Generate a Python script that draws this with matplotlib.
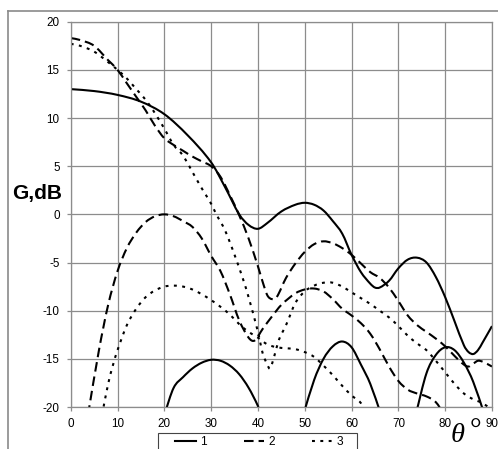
import matplotlib
matplotlib.use("Agg")
import matplotlib.pyplot as plt
from matplotlib.lines import Line2D
from matplotlib.path import Path
from matplotlib.patches import PathPatch, Rectangle

# ---- data: gain G (dB) versus angle theta (deg) ----
# curve 1 (solid): main pattern and three lower lobes
theta1 = [0, 5, 10, 15, 20, 25, 30, 33, 36, 38, 40, 42, 45, 48, 50, 52, 54, 56, 58,
          60, 62, 64, 65, 66, 68, 70, 72, 74, 76, 78, 80, 82, 84, 85, 86, 87, 88, 90]
g1 = [13.0, 12.8, 12.4, 11.7, 10.4, 8.2, 5.4, 2.8, 0.0, -1.1, -1.5, -0.9, 0.3, 1.0, 1.2,
      1.0, 0.4, -0.7, -2.0, -4.2, -6.0, -7.2, -7.6, -7.6, -6.9, -5.6, -4.7, -4.5, -5.0,
      -6.5, -8.6, -11.1, -13.6, -14.3, -14.5, -14.1, -13.3, -11.6]
theta1a = [20.0, 22, 24, 26, 28, 30, 32, 34, 36, 38, 40, 40.6]
g1a = [-20.8, -18.0, -16.9, -16.0, -15.4, -15.1, -15.2, -15.7, -16.6, -18.0, -19.9, -20.8]
theta1b = [49.7, 52, 54, 56, 58, 60, 62, 64, 66.3]
g1b = [-20.8, -17.2, -15.0, -13.7, -13.2, -13.8, -15.6, -17.6, -20.8]
theta1c = [73.7, 76, 78, 80, 82, 84, 86, 88.4]
g1c = [-20.8, -16.5, -14.6, -13.8, -14.1, -15.4, -17.4, -20.8]

# curve 2 (dashed): main pattern and lower lobe
theta2 = [0, 2, 5, 8, 10, 12, 14, 16, 18, 20, 22, 24, 26, 28, 30, 32, 34, 36, 38, 40,
          41, 42, 43, 44, 46, 48, 50, 52, 54, 56, 58, 60, 62, 64, 66, 68, 70, 72, 74,
          76, 78, 80, 82, 84, 85, 86, 87, 88, 90]
g2 = [18.3, 18.1, 17.5, 16.0, 15.0, 13.6, 12.2, 10.8, 9.2, 7.9, 7.2, 6.6, 6.0, 5.5, 5.0,
      3.9, 2.0, -0.1, -2.5, -5.4, -7.0, -8.4, -8.8, -8.6, -6.6, -5.1, -3.9, -3.1, -2.8,
      -3.0, -3.5, -4.2, -5.1, -6.0, -6.6, -7.6, -9.0, -10.5, -11.5, -12.2, -12.9, -13.7,
      -14.7, -15.6, -15.8, -15.5, -15.2, -15.3, -15.8]
theta2b = [3.7, 6, 8, 10, 12, 14, 16, 18, 20, 22, 24, 26, 28, 30, 32, 34, 36, 38, 39.3,
           41, 43, 45, 48, 50, 52, 54, 56, 58, 60, 62, 64, 66, 68, 70, 72, 74, 76, 78, 79.8]
g2b = [-20.8, -14.2, -9.4, -5.9, -3.5, -1.9, -0.8, -0.2, 0.0, -0.2, -0.7, -1.3, -2.5,
       -4.3, -5.9, -8.3, -11.0, -12.8, -13.1, -11.9, -10.6, -9.4, -8.2, -7.8, -7.7, -8.0,
       -8.8, -9.8, -10.5, -11.3, -12.4, -14.0, -15.8, -17.3, -18.2, -18.6, -18.9, -19.5,
       -20.8]

# curve 3 (dotted): main pattern and lower lobe
theta3 = [0, 2, 5, 8, 10, 12, 14, 16, 18, 20, 22, 24, 26, 28, 30, 31, 33, 35, 37, 38,
          40, 41, 42, 42.6, 43.5, 44.5, 46, 48, 50, 52, 54, 56, 58, 60, 62, 64, 66, 68,
          70, 72, 74, 76, 78, 80, 82, 84, 86, 88, 90]
g3 = [17.7, 17.5, 16.9, 15.8, 15.0, 14.1, 13.0, 11.9, 10.5, 8.9, 7.2, 6.1, 4.4, 2.7, 1.1,
      0.1, -1.7, -4.2, -7.0, -8.6, -12.2, -14.4, -15.6, -16.0, -14.7, -13.0, -11.5, -9.2,
      -8.0, -7.4, -7.1, -7.1, -7.5, -8.1, -8.7, -9.3, -10.0, -10.7, -11.6, -12.6, -13.4,
      -14.1, -15.2, -16.4, -17.6, -18.6, -19.2, -19.6, -20.3]
theta3b = [6.7, 8, 9, 10, 12, 14, 16, 18, 20, 22, 24, 26, 28, 30, 32, 34, 36, 38, 40, 42,
           44, 46, 48, 50, 52, 54, 56, 58, 60, 62, 63.2]
g3b = [-20.8, -17.6, -15.7, -14.1, -11.5, -9.8, -8.6, -7.9, -7.5, -7.4, -7.5, -7.8, -8.3,
       -8.9, -9.6, -10.4, -11.4, -12.2, -12.8, -13.5, -13.8, -13.9, -14.0, -14.3, -14.8,
       -15.7, -16.7, -17.8, -18.8, -19.6, -20.8]

x_ticks = [0, 10, 20, 30, 40, 50, 60, 70, 80, 90]
y_ticks = [-20, -15, -10, -5, 0, 5, 10, 15, 20]
legend_labels = ["1", "2", "3"]


def smooth_path(xs, ys):
    """Smoothed line through the points: cubic Hermite segments as Bezier curves."""
    n = len(xs)
    slopes = []
    for i in range(n):
        a = max(i - 1, 0)
        b = min(i + 1, n - 1)
        slopes.append((ys[b] - ys[a]) / (xs[b] - xs[a]))
    verts = [(xs[0], ys[0])]
    codes = [Path.MOVETO]
    for i in range(n - 1):
        h = xs[i + 1] - xs[i]
        verts += [(xs[i] + h / 3, ys[i] + slopes[i] * h / 3),
                  (xs[i + 1] - h / 3, ys[i + 1] - slopes[i + 1] * h / 3),
                  (xs[i + 1], ys[i + 1])]
        codes += [Path.CURVE4] * 3
    return Path(verts, codes)


# ---- styling ----
plt.rcParams["font.family"] = ["Liberation Sans", "DejaVu Sans"]
plt.rcParams["axes.unicode_minus"] = False
W, H = 498, 449
fig = plt.figure(figsize=(W / 100, H / 100), dpi=100)
fig.patch.set_facecolor("white")

ax = fig.add_axes([70.7 / W, 1 - 407 / H, (492 - 70.7) / W, (407 - 21.7) / H])
grid_c = "#8c8c8c"
lw = 1.5
dash = (0, (4.6, 2.4))
dot = (0, (1.4, 2.6))
ink = "black"

series = [
    (theta1, g1, "-"), (theta1a, g1a, "-"), (theta1b, g1b, "-"), (theta1c, g1c, "-"),
    (theta2, g2, dash), (theta2b, g2b, dash),
    (theta3, g3, dot), (theta3b, g3b, dot),
]
for xs, ys, ls in series:
    ax.add_patch(PathPatch(smooth_path(xs, ys), fill=False, edgecolor=ink, lw=lw,
                           linestyle=ls, capstyle="butt", joinstyle="round"))

ax.set_xlim(0, 90)
ax.set_ylim(-20, 20)
ax.set_xticks(x_ticks)
ax.set_yticks(y_ticks)
ax.grid(True, color=grid_c, lw=0.9)
ax.set_axisbelow(True)
for s in ax.spines.values():
    s.set_color(grid_c)
    s.set_linewidth(0.9)
ax.tick_params(axis="both", direction="out", length=3, width=0.9, color=grid_c,
               labelsize=8.4, labelcolor="black", pad=5)

# chart frame
fy = 1 - 10.5 / H
fx = 7.5 / W
fig.add_artist(Line2D([fx, fx], [0, fy], color="#8a8a8a", lw=1.2, transform=fig.transFigure))
fig.add_artist(Line2D([fx, 1], [fy, fy], color="#8a8a8a", lw=1.2, transform=fig.transFigure))

# axis titles
fig.text(12 / W, 1 - 193 / H, "G,dB", fontsize=15, fontweight="bold", ha="left",
         va="center", color="black")
fig.text(451 / W, 1.5 / H, "\u03b8", fontsize=20.5, fontstyle="italic",
         family=["Liberation Serif", "DejaVu Serif"], ha="left", va="bottom")
fig.text(469.5 / W, 1 - 419 / H, "\u00b0", fontsize=21,
         family=["Liberation Serif", "DejaVu Serif"], ha="left", va="top")

# legend: entries without frame, box drawn separately so it runs past the bottom edge
handles = [Line2D([], [], color=ink, lw=lw, ls="-"),
           Line2D([], [], color=ink, lw=lw, ls=dash),
           Line2D([], [], color=ink, lw=lw, ls=dot)]
fig.legend(handles, legend_labels, loc="upper left",
           bbox_to_anchor=(170 / W, 1 - 431 / H), ncol=3, fontsize=8.6,
           frameon=False, handlelength=1.75, handletextpad=0.35, columnspacing=3.05,
           borderpad=0.45, borderaxespad=0)
fig.add_artist(Rectangle((157.5 / W, -0.05), (357 - 157.5) / W, 0.05 + (449 - 432.5) / H,
                         transform=fig.transFigure, fill=False, edgecolor="#444444",
                         lw=0.8))

fig.savefig("out.png", dpi=100)
